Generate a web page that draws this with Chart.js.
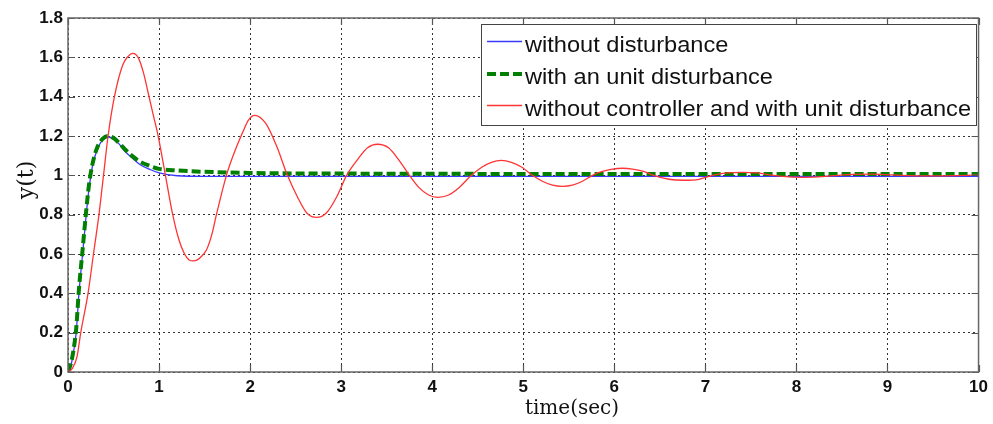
<!DOCTYPE html>
<html>
<head>
<meta charset="utf-8">
<script src="https://cdn.jsdelivr.net/npm/chart.js@4.4.1/dist/chart.umd.min.js"></script>
<style>
html,body{margin:0;padding:0;background:#fff;}
#wrap{width:993px;height:424px;}
</style>
</head>
<body>
<div id="wrap"><canvas id="c" width="993" height="424"></canvas></div>
<script>
// ---- data ----
const xTicks = [0,1,2,3,4,5,6,7,8,9,10];
const yTicks = [0,0.2,0.4,0.6,0.8,1,1.2,1.4,1.6,1.8];
const seriesNames = ["without disturbance","with an unit disturbance","without controller and with unit disturbance"];
const xTitle = "time(sec)";
const yTitle = "y(t)";

const blueT = [0,0.03,0.06,0.09,0.12,0.16,0.2,0.23,0.27,0.32,0.38,0.44,0.5,0.56,0.63,0.7,0.79,0.9,1.0,1.2,1.5,2,3,4,5,6,7,8,9,10];
const blueY = [0,0.03,0.1,0.2,0.4,0.6,0.8,0.93,1.05,1.13,1.18,1.195,1.185,1.16,1.12,1.09,1.055,1.03,1.012,0.998,0.995,0.995,0.995,0.995,0.995,0.995,0.995,0.995,0.995,0.995];

const greenT = [0,0.03,0.06,0.09,0.12,0.16,0.2,0.23,0.27,0.32,0.38,0.44,0.5,0.56,0.63,0.7,0.79,0.9,1.0,1.2,1.5,2,3,4,5,6,7,8,9,10];
const greenY = [0,0.04,0.11,0.22,0.42,0.62,0.82,0.95,1.06,1.14,1.185,1.2,1.19,1.165,1.13,1.1,1.07,1.048,1.033,1.025,1.018,1.012,1.009,1.008,1.007,1.007,1.007,1.007,1.007,1.007];

const redT = [0,0.05,0.1,0.14,0.22,0.28,0.34,0.39,0.44,0.51,0.6,0.66,0.71,0.77,0.83,0.88,0.94,0.99,1.07,1.15,1.22,1.28,1.33,1.37,1.42,1.47,1.52,1.58,1.63,1.74,1.83,1.92,1.98,2.05,2.17,2.29,2.41,2.52,2.62,2.73,2.84,2.95,3.06,3.18,3.29,3.4,3.52,3.63,3.75,3.85,3.96,4.06,4.18,4.3,4.43,4.54,4.65,4.76,4.87,4.99,5.1,5.21,5.32,5.43,5.54,5.65,5.76,5.87,5.98,6.09,6.2,6.32,6.43,6.6,6.77,6.93,7.08,7.24,7.4,7.57,7.75,7.92,8.1,8.28,8.45,8.62,8.8,8.98,9.15,9.5,9.85,10];
const redY = [0,0.02,0.08,0.2,0.4,0.6,0.8,1.0,1.2,1.4,1.56,1.605,1.62,1.6,1.52,1.42,1.3,1.2,1.0,0.8,0.67,0.6,0.57,0.565,0.57,0.59,0.62,0.7,0.8,1.0,1.12,1.22,1.28,1.305,1.265,1.15,1.0,0.89,0.81,0.786,0.81,0.89,1.0,1.08,1.14,1.158,1.14,1.08,1.0,0.94,0.9,0.888,0.9,0.94,1.0,1.04,1.066,1.076,1.066,1.04,1.0,0.97,0.95,0.944,0.95,0.97,1.0,1.02,1.032,1.036,1.032,1.02,1.0,0.98,0.975,0.98,1.0,1.012,1.015,1.012,1.0,0.992,0.99,0.993,1.0,1.005,1.006,1.004,1.0,0.997,1.0,1.001];

function pts(t, y){ return t.map((v,i)=>({x:v,y:y[i]})); }

// ---- plugins ----
const boxPlugin = {
  id:'boxTicks',
  afterDatasetsDraw(chart){
    const {ctx, chartArea:a, scales:{x, y}} = chart;
    ctx.save();
    ctx.strokeStyle = '#555';
    ctx.lineWidth = 1.2;
    const L = 7;
    ctx.beginPath();
    xTicks.forEach(v=>{
      const px = Math.round(x.getPixelForValue(v))+0.5;
      ctx.moveTo(px,a.bottom); ctx.lineTo(px,a.bottom-L);
      ctx.moveTo(px,a.top); ctx.lineTo(px,a.top+L);
    });
    yTicks.forEach(v=>{
      const py = Math.round(y.getPixelForValue(v))+0.5;
      ctx.moveTo(a.left,py); ctx.lineTo(a.left+L,py);
      ctx.moveTo(a.right,py); ctx.lineTo(a.right-L,py);
    });
    ctx.stroke();
    ctx.lineWidth = 1.5;
    ctx.strokeStyle = '#666';
    ctx.strokeRect(a.left, a.top, a.right-a.left, a.bottom-a.top);
    ctx.restore();
  }
};

const titlePlugin = {
  id:'axisTitles',
  afterDraw(chart){
    const ctx = chart.ctx;
    ctx.save();
    ctx.fillStyle='#111';
    ctx.textAlign='center';
    ctx.textBaseline='middle';
    ctx.font='20px "DejaVu Serif", serif';
    ctx.fillText(xTitle, 572, 409);
    ctx.translate(27, 180);
    ctx.rotate(-Math.PI/2);
    ctx.font='22px "DejaVu Serif", serif';
    ctx.fillText(yTitle, 0, 0);
    ctx.restore();
  }
};

const legendPlugin = {
  id:'boxLegend',
  afterDraw(chart){
    const ctx = chart.ctx;
    const ds = chart.data.datasets;
    ctx.save();
    const bx=481, by=24, bw=495, bh=101;
    ctx.fillStyle='#fff';
    ctx.fillRect(bx,by,bw,bh);
    ctx.strokeStyle='#444'; ctx.lineWidth=1;
    ctx.strokeRect(bx+0.5,by+0.5,bw,bh);
    const lineY=[41.5,74,105.5], baseY=[52,84,116];
    ctx.font='22px "Liberation Sans", Arial, sans-serif';
    const target = 446;
    const w = ctx.measureText(seriesNames[2]).width;
    const sx = target / w;
    seriesNames.forEach((name,i)=>{
      const d = ds[i];
      ctx.save();
      ctx.strokeStyle=d.borderColor;
      ctx.lineWidth=d.borderWidth;
      ctx.setLineDash(d.borderDash||[]);
      ctx.beginPath(); ctx.moveTo(487,lineY[i]); ctx.lineTo(522,lineY[i]); ctx.stroke();
      ctx.restore();
      ctx.save();
      ctx.fillStyle='#111';
      ctx.textBaseline='alphabetic';
      ctx.translate(525, baseY[i]);
      ctx.scale(sx,1);
      ctx.fillText(name,0,0);
      ctx.restore();
    });
    ctx.restore();
  }
};

const tickFont = {family:'"Liberation Sans", Arial, sans-serif', size:17, weight:'bold'};

new Chart(document.getElementById('c'), {
  type:'line',
  data:{
    datasets:[
      {label:seriesNames[0], data:pts(blueT,blueY), borderColor:'#3a3aff', borderWidth:1.3, pointRadius:0, cubicInterpolationMode:'monotone', order:3},
      {label:seriesNames[1], data:pts(greenT,greenY), borderColor:'#007f00', borderWidth:4, borderDash:[9,4], pointRadius:0, cubicInterpolationMode:'monotone', order:2},
      {label:seriesNames[2], data:pts(redT,redY), borderColor:'#ff3434', borderWidth:1.3, pointRadius:0, cubicInterpolationMode:'monotone', order:1}
    ]
  },
  options:{
    responsive:false,
    animation:false,
    devicePixelRatio:1,
    layout:{padding:{top:18,right:13,left:0,bottom:0}},
    plugins:{legend:{display:false}, tooltip:{enabled:false}},
    scales:{
      x:{
        type:'linear', min:0, max:10,
        afterBuildTicks(s){ s.ticks = xTicks.map(v=>({value:v})); },
        afterFit(s){ s.height = 52; },
        ticks:{font:tickFont, color:'#111', padding:5, maxRotation:0, autoSkip:false,
          callback:(v)=>String(v)},
        grid:{color:'#333', lineWidth:1, drawTicks:false, tickLength:0},
        border:{display:false, dash:[2,3]},
        title:{display:false, text:xTitle}
      },
      y:{
        type:'linear', min:0, max:1.8,
        afterBuildTicks(s){ s.ticks = yTicks.map(v=>({value:v})); },
        afterFit(s){ s.width = 68; },
        ticks:{font:tickFont, color:'#111', padding:5, autoSkip:false,
          callback:(v)=>String(Math.round(v*10)/10)},
        grid:{color:'#333', lineWidth:1, drawTicks:false, tickLength:0},
        border:{display:false, dash:[2,3]},
        title:{display:false, text:yTitle}
      }
    }
  },
  plugins:[boxPlugin, titlePlugin, legendPlugin]
});
</script>
</body>
</html>
